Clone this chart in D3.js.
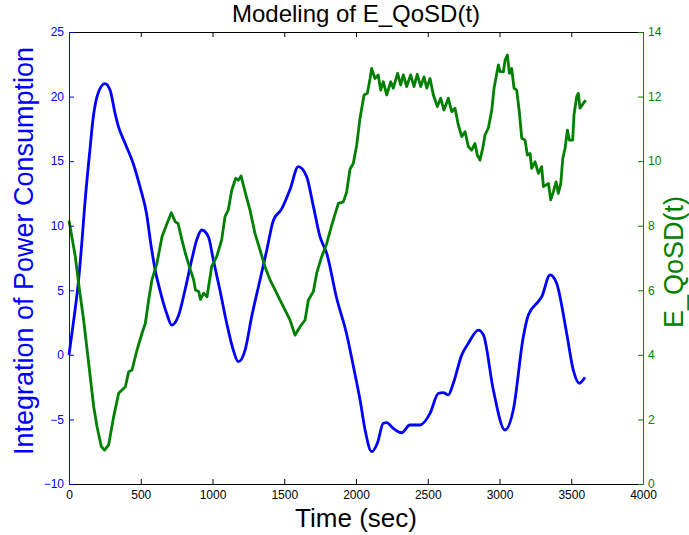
<!DOCTYPE html>
<html>
<head>
<meta charset="utf-8">
<script src="https://cdn.jsdelivr.net/npm/d3@7"></script>
<style>
  body { margin: 0; background: #fff; }
  svg { font-family: "Liberation Sans", Arial, sans-serif; }
</style>
</head>
<body>
<div id="chart"></div>
<script>
// power consumption integral (left axis)
const powerTime = [0, 33, 67, 91, 109, 146, 169, 204, 251, 286, 321, 344, 390, 448, 495, 541, 570, 600, 634, 681, 716, 762, 808, 855, 890, 925, 971, 1006, 1052, 1099, 1145, 1180, 1227, 1273, 1331, 1378, 1424, 1482, 1540, 1598, 1656, 1703, 1749, 1796, 1865, 1935, 1982, 2030, 2063, 2109, 2150, 2190, 2214, 2260, 2318, 2376, 2446, 2516, 2574, 2608, 2643, 2678, 2737, 2783, 2853, 2888, 2957, 3038, 3096, 3166, 3201, 3270, 3294, 3352, 3398, 3468, 3514, 3556, 3596];
const powerValue = [0, 2.7, 5.8, 8.9, 11.5, 15.9, 18.4, 20.3, 21.0, 20.5, 18.7, 17.7, 16.4, 14.8, 13.0, 10.9, 8.6, 6.6, 5.0, 3.2, 2.3, 3.0, 5.0, 7.35, 8.9, 9.67, 9.15, 7.35, 5.0, 2.45, 0.37, -0.53, 0.37, 2.96, 5.8, 8.1, 10.4, 11.3, 12.8, 14.57, 13.8, 11.5, 9.15, 7.86, 4.4, 1.6, -0.9, -3.6, -5.8, -7.5, -6.8, -5.3, -5.25, -5.7, -6.03, -5.43, -5.43, -4.53, -2.98, -2.93, -3.1, -2.2, 0.0, 0.9, 1.92, 1.54, -2.72, -5.82, -4.27, 1.4, 3.08, 4.12, 4.5, 6.19, 5.54, 1.67, -1.17, -2.2, -1.74];

// E_QoSD(t) (right axis)
const qosdTime = [0, 44, 67, 102, 137, 172, 195, 225, 248, 276, 311, 346, 369, 393, 416, 439, 474, 509, 532, 555, 578, 613, 648, 683, 713, 741, 760, 787, 811, 846, 869, 881, 904, 916, 939, 962, 994, 1029, 1064, 1087, 1110, 1134, 1162, 1180, 1199, 1227, 1261, 1296, 1331, 1366, 1401, 1436, 1470, 1505, 1540, 1575, 1610, 1645, 1668, 1703, 1726, 1761, 1796, 1831, 1877, 1912, 1935, 1958, 1981, 2005, 2028, 2056, 2079, 2098, 2109, 2132, 2155, 2172, 2190, 2214, 2242, 2260, 2290, 2311, 2330, 2353, 2381, 2404, 2427, 2451, 2474, 2493, 2516, 2539, 2567, 2590, 2613, 2643, 2667, 2690, 2713, 2737, 2760, 2783, 2806, 2829, 2845, 2864, 2883, 2899, 2922, 2946, 2962, 2992, 3004, 3027, 3039, 3055, 3069, 3085, 3101, 3120, 3138, 3155, 3178, 3194, 3213, 3224, 3248, 3271, 3294, 3306, 3341, 3357, 3375, 3394, 3410, 3427, 3441, 3457, 3473, 3487, 3510, 3519, 3538, 3549, 3561, 3584, 3601];
const qosdValue = [8.16, 7.04, 6.21, 5.08, 3.74, 2.4, 1.78, 1.16, 1.05, 1.21, 2.08, 2.81, 2.91, 3.01, 3.48, 3.53, 4.15, 4.67, 4.98, 5.7, 6.32, 6.84, 7.66, 8.07, 8.4, 8.12, 8.07, 7.56, 7.14, 6.63, 6.32, 6.01, 5.96, 5.72, 5.91, 5.8, 6.73, 7.04, 7.56, 8.28, 8.49, 9.1, 9.47, 9.41, 9.54, 9.05, 8.49, 7.76, 7.25, 6.73, 6.32, 6.01, 5.7, 5.39, 5.08, 4.61, 4.87, 5.08, 5.7, 5.96, 6.53, 7.04, 7.45, 8.02, 8.69, 8.74, 9.05, 9.75, 9.93, 10.5, 11.33, 12.05, 12.1, 12.56, 12.87, 12.56, 12.67, 12.2, 12.46, 12.05, 12.46, 12.26, 12.72, 12.36, 12.67, 12.31, 12.67, 12.31, 12.69, 12.31, 12.61, 12.26, 12.56, 12.05, 11.69, 11.95, 11.58, 11.95, 11.53, 11.64, 11.12, 10.76, 10.91, 10.45, 10.34, 10.55, 10.19, 10.03, 10.4, 10.81, 11.02, 11.58, 12.26, 12.98, 12.77, 12.77, 13.13, 13.29, 12.72, 12.87, 12.26, 12.2, 11.53, 10.71, 10.65, 10.19, 10.24, 9.78, 9.98, 9.62, 9.83, 9.21, 9.31, 8.8, 9.05, 9.36, 9.0, 9.31, 10.09, 10.4, 10.96, 10.65, 10.65, 11.43, 12.0, 12.1, 11.64, 11.79, 11.89];

const xTicks = [0, 500, 1000, 1500, 2000, 2500, 3000, 3500, 4000];
const leftTicks = [-10, -5, 0, 5, 10, 15, 20, 25];
const rightTicks = [0, 2, 4, 6, 8, 10, 12, 14];

const width = 689, height = 535;
const margin = { top: 32, right: 46, bottom: 51, left: 69 };
const innerW = width - margin.left - margin.right;
const innerH = height - margin.top - margin.bottom;

const blue = '#0000ff';
const green = '#008000';

const svg = d3.select('#chart').append('svg')
    .attr('width', width)
    .attr('height', height);

const g = svg.append('g')
    .attr('transform', `translate(${margin.left},${margin.top})`);

const x = d3.scaleLinear().domain([0, 4000]).range([0, innerW]);
const yLeft = d3.scaleLinear().domain([-10, 25]).range([innerH, 0]);
const yRight = d3.scaleLinear().domain([0, 14]).range([innerH, 0]);

// lines
const powerLine = d3.line()
    .x((d, i) => x(powerTime[i]))
    .y(d => yLeft(d))
    .curve(d3.curveMonotoneX);

const qosdLine = d3.line()
    .x((d, i) => x(qosdTime[i]))
    .y(d => yRight(d));

g.append('path')
    .datum(powerValue)
    .attr('fill', 'none')
    .attr('stroke', blue)
    .attr('stroke-width', 2.8)
    .attr('d', powerLine);

g.append('path')
    .datum(qosdValue)
    .attr('fill', 'none')
    .attr('stroke', green)
    .attr('stroke-width', 2.8)
    .attr('stroke-linejoin', 'round')
    .attr('d', qosdLine);

// axes (inward ticks, matlab style)
const tickLen = 5;

const xBottom = g.append('g')
    .attr('transform', `translate(0,${innerH})`)
    .call(d3.axisBottom(x).tickValues(xTicks).tickSizeInner(-tickLen).tickSizeOuter(0).tickPadding(6).tickFormat(d3.format('d')));
xBottom.select('.domain').attr('stroke', '#000');
xBottom.selectAll('text').attr('font-size', 12).attr('fill', '#000');

const xTop = g.append('g')
    .call(d3.axisTop(x).tickValues(xTicks).tickSizeInner(-tickLen).tickSizeOuter(0).tickFormat(''));
xTop.select('.domain').attr('stroke', '#000');

const left = g.append('g')
    .call(d3.axisLeft(yLeft).tickValues(leftTicks).tickSizeInner(-tickLen).tickSizeOuter(0).tickPadding(5)
        .tickFormat(d => d < 0 ? '\u2212' + Math.abs(d) : d));
left.select('.domain').attr('stroke', blue);
left.selectAll('line').attr('stroke', blue);
left.selectAll('text').attr('font-size', 12).attr('fill', blue);

const right = g.append('g')
    .attr('transform', `translate(${innerW},0)`)
    .call(d3.axisRight(yRight).tickValues(rightTicks).tickSizeInner(-tickLen).tickSizeOuter(0).tickPadding(5));
right.select('.domain').attr('stroke', '#245f80');
right.selectAll('line').attr('stroke', green);
right.selectAll('text').attr('font-size', 12).attr('fill', green);

// titles
svg.append('text')
    .attr('x', margin.left + innerW / 2)
    .attr('y', 22)
    .attr('text-anchor', 'middle')
    .attr('font-size', 24)
    .attr('fill', '#000')
    .text('Modeling of E_QoSD(t)');

svg.append('text')
    .attr('x', margin.left + innerW / 2)
    .attr('y', 527)
    .attr('text-anchor', 'middle')
    .attr('font-size', 26)
    .attr('fill', '#000')
    .text('Time (sec)');

svg.append('text')
    .attr('transform', `translate(33,251) rotate(-90)`)
    .attr('text-anchor', 'middle')
    .attr('font-size', 27)
    .attr('fill', blue)
    .text('Integration of Power Consumption');

svg.append('text')
    .attr('transform', `translate(683,262) rotate(-90)`)
    .attr('text-anchor', 'middle')
    .attr('font-size', 27)
    .attr('fill', green)
    .text('E_QoSD(t)');
</script>
</body>
</html>
